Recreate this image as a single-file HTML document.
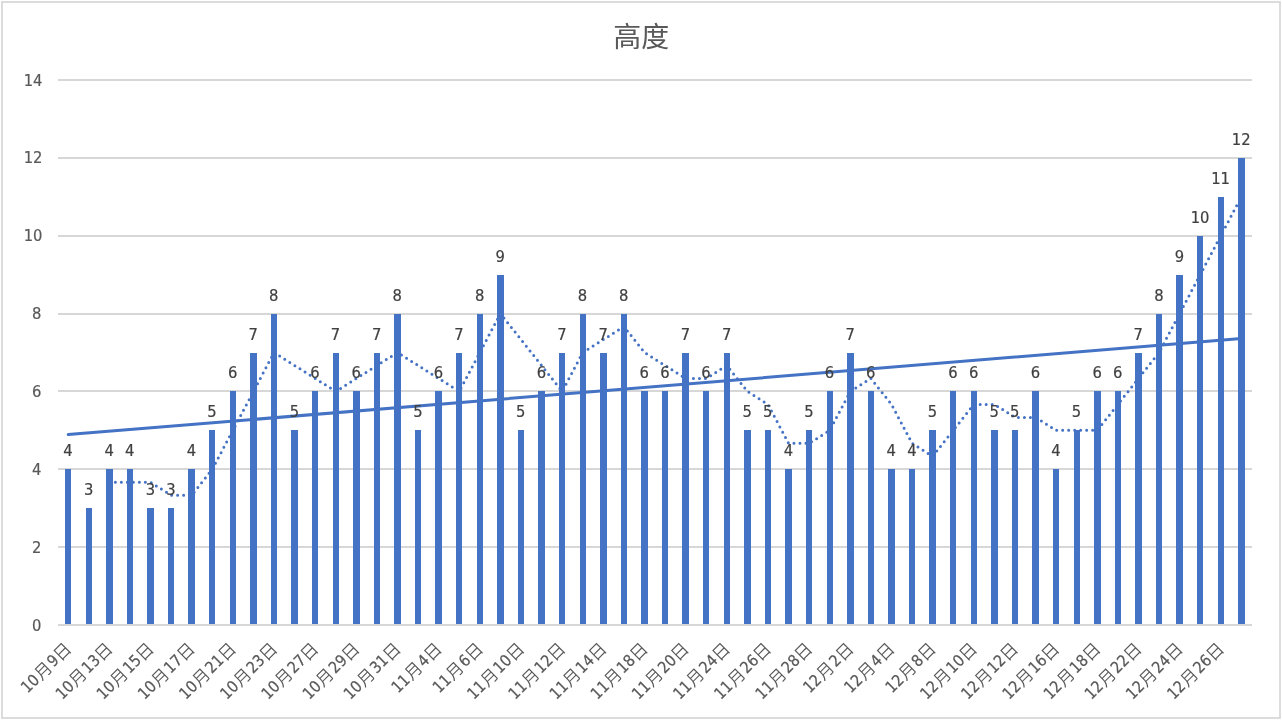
<!DOCTYPE html>
<html lang="zh"><head><meta charset="utf-8"><title>高度</title>
<style>
html,body{margin:0;padding:0;background:#fff;}
body{width:1282px;height:720px;overflow:hidden;}
svg{display:block;}
text{font-family:"DejaVu Sans Condensed","Liberation Sans","Noto Sans CJK SC",sans-serif;}
.t{font-size:16.4px;fill:#404040;text-anchor:middle;stroke:#404040;stroke-width:0.2px;}
.y{font-size:16.4px;fill:#595959;text-anchor:end;stroke:#595959;stroke-width:0.2px;}
.c{font-size:16px;fill:#595959;text-anchor:end;stroke:#595959;stroke-width:0.2px;}
.c .k{font-size:17px;font-weight:350;stroke:none;}
</style></head><body>
<svg width="1282" height="720" viewBox="0 0 1282 720">
<rect x="0" y="0" width="1282" height="720" fill="#ffffff"/>
<rect x="2" y="2" width="1278" height="716" fill="none" stroke="#d6d6d6" stroke-width="1.7"/>
<text x="641.3" y="46.7" style="font-size:28px;fill:#595959;text-anchor:middle;font-weight:400">高度</text>
<g stroke="#d7d7d7" stroke-width="2">
<line x1="58" y1="625" x2="1252" y2="625"/>
<line x1="58" y1="547" x2="1252" y2="547"/>
<line x1="58" y1="469" x2="1252" y2="469"/>
<line x1="58" y1="391" x2="1252" y2="391"/>
<line x1="58" y1="314" x2="1252" y2="314"/>
<line x1="58" y1="236" x2="1252" y2="236"/>
<line x1="58" y1="158" x2="1252" y2="158"/>
<line x1="58" y1="80" x2="1252" y2="80"/>
</g>
<g class="y">
<text x="41.3" y="631.00">0</text>
<text x="41.3" y="553.00">2</text>
<text x="41.3" y="475.00">4</text>
<text x="41.3" y="397.00">6</text>
<text x="41.3" y="319.00">8</text>
<text x="42.4" y="241.00">10</text>
<text x="42.4" y="163.00">12</text>
<text x="42.4" y="86.00">14</text>
</g>
<g fill="#4472c4">
<rect x="65" y="469" width="6" height="155"/>
<rect x="86" y="508" width="6" height="116"/>
<rect x="106" y="469" width="7" height="155"/>
<rect x="127" y="469" width="6" height="155"/>
<rect x="147" y="508" width="7" height="116"/>
<rect x="168" y="508" width="6" height="116"/>
<rect x="188" y="469" width="7" height="155"/>
<rect x="209" y="430" width="6" height="194"/>
<rect x="230" y="391" width="6" height="233"/>
<rect x="250" y="353" width="7" height="271"/>
<rect x="271" y="314" width="6" height="310"/>
<rect x="291" y="430" width="7" height="194"/>
<rect x="312" y="391" width="6" height="233"/>
<rect x="333" y="353" width="6" height="271"/>
<rect x="353" y="391" width="7" height="233"/>
<rect x="374" y="353" width="6" height="271"/>
<rect x="394" y="314" width="7" height="310"/>
<rect x="415" y="430" width="6" height="194"/>
<rect x="435" y="391" width="7" height="233"/>
<rect x="456" y="353" width="6" height="271"/>
<rect x="477" y="314" width="6" height="310"/>
<rect x="497" y="275" width="7" height="349"/>
<rect x="518" y="430" width="6" height="194"/>
<rect x="538" y="391" width="7" height="233"/>
<rect x="559" y="353" width="6" height="271"/>
<rect x="580" y="314" width="6" height="310"/>
<rect x="600" y="353" width="7" height="271"/>
<rect x="621" y="314" width="6" height="310"/>
<rect x="641" y="391" width="7" height="233"/>
<rect x="662" y="391" width="6" height="233"/>
<rect x="682" y="353" width="7" height="271"/>
<rect x="703" y="391" width="6" height="233"/>
<rect x="724" y="353" width="6" height="271"/>
<rect x="744" y="430" width="7" height="194"/>
<rect x="765" y="430" width="6" height="194"/>
<rect x="785" y="469" width="7" height="155"/>
<rect x="806" y="430" width="6" height="194"/>
<rect x="827" y="391" width="6" height="233"/>
<rect x="847" y="353" width="7" height="271"/>
<rect x="868" y="391" width="6" height="233"/>
<rect x="888" y="469" width="7" height="155"/>
<rect x="909" y="469" width="6" height="155"/>
<rect x="929" y="430" width="7" height="194"/>
<rect x="950" y="391" width="6" height="233"/>
<rect x="971" y="391" width="6" height="233"/>
<rect x="991" y="430" width="7" height="194"/>
<rect x="1012" y="430" width="6" height="194"/>
<rect x="1032" y="391" width="7" height="233"/>
<rect x="1053" y="469" width="6" height="155"/>
<rect x="1074" y="430" width="6" height="194"/>
<rect x="1094" y="391" width="7" height="233"/>
<rect x="1115" y="391" width="6" height="233"/>
<rect x="1135" y="353" width="7" height="271"/>
<rect x="1156" y="314" width="6" height="310"/>
<rect x="1176" y="275" width="7" height="349"/>
<rect x="1197" y="236" width="6" height="388"/>
<rect x="1218" y="197" width="6" height="427"/>
<rect x="1238" y="158" width="7" height="466"/>
</g>
<polyline fill="none" stroke="#4472c4" stroke-width="3" stroke-linecap="round" stroke-linejoin="round" stroke-dasharray="0 6" points="109.36,482.26 129.95,482.26 150.53,482.26 171.11,495.24 191.69,495.24 212.27,469.29 232.86,430.36 253.44,391.43 274.02,352.50 294.60,365.48 315.18,378.45 335.77,391.43 356.35,378.45 376.93,365.48 397.51,352.50 418.09,365.48 438.68,378.45 459.26,391.43 479.84,352.50 500.42,313.57 521.00,339.52 541.59,365.48 562.17,391.43 582.75,352.50 603.33,339.52 623.91,326.55 644.50,352.50 665.08,365.48 685.66,378.45 706.24,378.45 726.82,365.48 747.41,391.43 767.99,404.40 788.57,443.33 809.15,443.33 829.73,430.36 850.32,391.43 870.90,378.45 891.48,404.40 912.06,443.33 932.64,456.31 953.23,430.36 973.81,404.40 994.39,404.40 1014.97,417.38 1035.55,417.38 1056.14,430.36 1076.72,430.36 1097.30,430.36 1117.88,404.40 1138.46,378.45 1159.05,352.50 1179.63,313.57 1200.21,274.64 1220.79,235.71 1241.37,196.79"/>
<line x1="68.20" y1="434.58" x2="1241.37" y2="338.58" stroke="#4472c4" stroke-width="3" stroke-linecap="round"/>
<g class="t">
<text x="68.00" y="456.29">4</text>
<text x="88.58" y="495.21">3</text>
<text x="109.16" y="456.29">4</text>
<text x="129.75" y="456.29">4</text>
<text x="150.33" y="495.21">3</text>
<text x="170.91" y="495.21">3</text>
<text x="191.49" y="456.29">4</text>
<text x="212.07" y="417.36">5</text>
<text x="232.66" y="378.43">6</text>
<text x="253.24" y="339.50">7</text>
<text x="273.82" y="300.57">8</text>
<text x="294.40" y="417.36">5</text>
<text x="314.98" y="378.43">6</text>
<text x="335.57" y="339.50">7</text>
<text x="356.15" y="378.43">6</text>
<text x="376.73" y="339.50">7</text>
<text x="397.31" y="300.57">8</text>
<text x="417.89" y="417.36">5</text>
<text x="438.48" y="378.43">6</text>
<text x="459.06" y="339.50">7</text>
<text x="479.64" y="300.57">8</text>
<text x="500.22" y="261.64">9</text>
<text x="520.80" y="417.36">5</text>
<text x="541.39" y="378.43">6</text>
<text x="561.97" y="339.50">7</text>
<text x="582.55" y="300.57">8</text>
<text x="603.13" y="339.50">7</text>
<text x="623.71" y="300.57">8</text>
<text x="644.30" y="378.43">6</text>
<text x="664.88" y="378.43">6</text>
<text x="685.46" y="339.50">7</text>
<text x="706.04" y="378.43">6</text>
<text x="726.62" y="339.50">7</text>
<text x="747.21" y="417.36">5</text>
<text x="767.79" y="417.36">5</text>
<text x="788.37" y="456.29">4</text>
<text x="808.95" y="417.36">5</text>
<text x="829.53" y="378.43">6</text>
<text x="850.12" y="339.50">7</text>
<text x="870.70" y="378.43">6</text>
<text x="891.28" y="456.29">4</text>
<text x="911.86" y="456.29">4</text>
<text x="932.44" y="417.36">5</text>
<text x="953.03" y="378.43">6</text>
<text x="973.61" y="378.43">6</text>
<text x="994.19" y="417.36">5</text>
<text x="1014.77" y="417.36">5</text>
<text x="1035.35" y="378.43">6</text>
<text x="1055.94" y="456.29">4</text>
<text x="1076.52" y="417.36">5</text>
<text x="1097.10" y="378.43">6</text>
<text x="1117.68" y="378.43">6</text>
<text x="1138.26" y="339.50">7</text>
<text x="1158.85" y="300.57">8</text>
<text x="1179.43" y="261.64">9</text>
<text x="1200.01" y="222.71">10</text>
<text x="1220.59" y="183.79">11</text>
<text x="1241.17" y="144.86">12</text>
</g>
<g class="c">
<text transform="translate(72.60 649.90) rotate(-45)"><tspan dy="-0.8">10</tspan><tspan class="k" dx="0.5" dy="0.8">月</tspan><tspan dx="1" dy="-0.8">9</tspan><tspan class="k" dx="0" dy="0.8">日</tspan></text>
<text transform="translate(113.76 649.90) rotate(-45)"><tspan dy="-0.8">10</tspan><tspan class="k" dx="0.5" dy="0.8">月</tspan><tspan dx="1" dy="-0.8">13</tspan><tspan class="k" dx="0" dy="0.8">日</tspan></text>
<text transform="translate(154.93 649.90) rotate(-45)"><tspan dy="-0.8">10</tspan><tspan class="k" dx="0.5" dy="0.8">月</tspan><tspan dx="1" dy="-0.8">15</tspan><tspan class="k" dx="0" dy="0.8">日</tspan></text>
<text transform="translate(196.09 649.90) rotate(-45)"><tspan dy="-0.8">10</tspan><tspan class="k" dx="0.5" dy="0.8">月</tspan><tspan dx="1" dy="-0.8">17</tspan><tspan class="k" dx="0" dy="0.8">日</tspan></text>
<text transform="translate(237.26 649.90) rotate(-45)"><tspan dy="-0.8">10</tspan><tspan class="k" dx="0.5" dy="0.8">月</tspan><tspan dx="1" dy="-0.8">21</tspan><tspan class="k" dx="0" dy="0.8">日</tspan></text>
<text transform="translate(278.42 649.90) rotate(-45)"><tspan dy="-0.8">10</tspan><tspan class="k" dx="0.5" dy="0.8">月</tspan><tspan dx="1" dy="-0.8">23</tspan><tspan class="k" dx="0" dy="0.8">日</tspan></text>
<text transform="translate(319.58 649.90) rotate(-45)"><tspan dy="-0.8">10</tspan><tspan class="k" dx="0.5" dy="0.8">月</tspan><tspan dx="1" dy="-0.8">27</tspan><tspan class="k" dx="0" dy="0.8">日</tspan></text>
<text transform="translate(360.75 649.90) rotate(-45)"><tspan dy="-0.8">10</tspan><tspan class="k" dx="0.5" dy="0.8">月</tspan><tspan dx="1" dy="-0.8">29</tspan><tspan class="k" dx="0" dy="0.8">日</tspan></text>
<text transform="translate(401.91 649.90) rotate(-45)"><tspan dy="-0.8">10</tspan><tspan class="k" dx="0.5" dy="0.8">月</tspan><tspan dx="1" dy="-0.8">31</tspan><tspan class="k" dx="0" dy="0.8">日</tspan></text>
<text transform="translate(443.08 649.90) rotate(-45)"><tspan dy="-0.8">11</tspan><tspan class="k" dx="0.5" dy="0.8">月</tspan><tspan dx="1" dy="-0.8">4</tspan><tspan class="k" dx="0" dy="0.8">日</tspan></text>
<text transform="translate(484.24 649.90) rotate(-45)"><tspan dy="-0.8">11</tspan><tspan class="k" dx="0.5" dy="0.8">月</tspan><tspan dx="1" dy="-0.8">6</tspan><tspan class="k" dx="0" dy="0.8">日</tspan></text>
<text transform="translate(525.40 649.90) rotate(-45)"><tspan dy="-0.8">11</tspan><tspan class="k" dx="0.5" dy="0.8">月</tspan><tspan dx="1" dy="-0.8">10</tspan><tspan class="k" dx="0" dy="0.8">日</tspan></text>
<text transform="translate(566.57 649.90) rotate(-45)"><tspan dy="-0.8">11</tspan><tspan class="k" dx="0.5" dy="0.8">月</tspan><tspan dx="1" dy="-0.8">12</tspan><tspan class="k" dx="0" dy="0.8">日</tspan></text>
<text transform="translate(607.73 649.90) rotate(-45)"><tspan dy="-0.8">11</tspan><tspan class="k" dx="0.5" dy="0.8">月</tspan><tspan dx="1" dy="-0.8">14</tspan><tspan class="k" dx="0" dy="0.8">日</tspan></text>
<text transform="translate(648.90 649.90) rotate(-45)"><tspan dy="-0.8">11</tspan><tspan class="k" dx="0.5" dy="0.8">月</tspan><tspan dx="1" dy="-0.8">18</tspan><tspan class="k" dx="0" dy="0.8">日</tspan></text>
<text transform="translate(690.06 649.90) rotate(-45)"><tspan dy="-0.8">11</tspan><tspan class="k" dx="0.5" dy="0.8">月</tspan><tspan dx="1" dy="-0.8">20</tspan><tspan class="k" dx="0" dy="0.8">日</tspan></text>
<text transform="translate(731.22 649.90) rotate(-45)"><tspan dy="-0.8">11</tspan><tspan class="k" dx="0.5" dy="0.8">月</tspan><tspan dx="1" dy="-0.8">24</tspan><tspan class="k" dx="0" dy="0.8">日</tspan></text>
<text transform="translate(772.39 649.90) rotate(-45)"><tspan dy="-0.8">11</tspan><tspan class="k" dx="0.5" dy="0.8">月</tspan><tspan dx="1" dy="-0.8">26</tspan><tspan class="k" dx="0" dy="0.8">日</tspan></text>
<text transform="translate(813.55 649.90) rotate(-45)"><tspan dy="-0.8">11</tspan><tspan class="k" dx="0.5" dy="0.8">月</tspan><tspan dx="1" dy="-0.8">28</tspan><tspan class="k" dx="0" dy="0.8">日</tspan></text>
<text transform="translate(854.72 649.90) rotate(-45)"><tspan dy="-0.8">12</tspan><tspan class="k" dx="0.5" dy="0.8">月</tspan><tspan dx="1" dy="-0.8">2</tspan><tspan class="k" dx="0" dy="0.8">日</tspan></text>
<text transform="translate(895.88 649.90) rotate(-45)"><tspan dy="-0.8">12</tspan><tspan class="k" dx="0.5" dy="0.8">月</tspan><tspan dx="1" dy="-0.8">4</tspan><tspan class="k" dx="0" dy="0.8">日</tspan></text>
<text transform="translate(937.04 649.90) rotate(-45)"><tspan dy="-0.8">12</tspan><tspan class="k" dx="0.5" dy="0.8">月</tspan><tspan dx="1" dy="-0.8">8</tspan><tspan class="k" dx="0" dy="0.8">日</tspan></text>
<text transform="translate(978.21 649.90) rotate(-45)"><tspan dy="-0.8">12</tspan><tspan class="k" dx="0.5" dy="0.8">月</tspan><tspan dx="1" dy="-0.8">10</tspan><tspan class="k" dx="0" dy="0.8">日</tspan></text>
<text transform="translate(1019.37 649.90) rotate(-45)"><tspan dy="-0.8">12</tspan><tspan class="k" dx="0.5" dy="0.8">月</tspan><tspan dx="1" dy="-0.8">12</tspan><tspan class="k" dx="0" dy="0.8">日</tspan></text>
<text transform="translate(1060.54 649.90) rotate(-45)"><tspan dy="-0.8">12</tspan><tspan class="k" dx="0.5" dy="0.8">月</tspan><tspan dx="1" dy="-0.8">16</tspan><tspan class="k" dx="0" dy="0.8">日</tspan></text>
<text transform="translate(1101.70 649.90) rotate(-45)"><tspan dy="-0.8">12</tspan><tspan class="k" dx="0.5" dy="0.8">月</tspan><tspan dx="1" dy="-0.8">18</tspan><tspan class="k" dx="0" dy="0.8">日</tspan></text>
<text transform="translate(1142.86 649.90) rotate(-45)"><tspan dy="-0.8">12</tspan><tspan class="k" dx="0.5" dy="0.8">月</tspan><tspan dx="1" dy="-0.8">22</tspan><tspan class="k" dx="0" dy="0.8">日</tspan></text>
<text transform="translate(1184.03 649.90) rotate(-45)"><tspan dy="-0.8">12</tspan><tspan class="k" dx="0.5" dy="0.8">月</tspan><tspan dx="1" dy="-0.8">24</tspan><tspan class="k" dx="0" dy="0.8">日</tspan></text>
<text transform="translate(1225.19 649.90) rotate(-45)"><tspan dy="-0.8">12</tspan><tspan class="k" dx="0.5" dy="0.8">月</tspan><tspan dx="1" dy="-0.8">26</tspan><tspan class="k" dx="0" dy="0.8">日</tspan></text>
</g>
</svg>
</body></html>
